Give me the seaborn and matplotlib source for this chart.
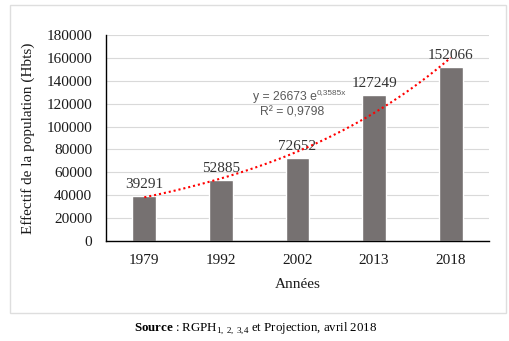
import numpy as np
import pandas as pd
import matplotlib
matplotlib.use("Agg")
import matplotlib.pyplot as plt
from matplotlib.patches import Rectangle
import seaborn as sns

# Population census / projection figures
years = ["1979", "1992", "2002", "2013", "2018"]
population = [39291, 52885, 72652, 127249, 152066]
y_ticks = [0, 20000, 40000, 60000, 80000, 100000, 120000, 140000, 160000, 180000]

# Exponential trend fitted in the spreadsheet: y = a * exp(b * x), x = 1..n
trend_a = 26673
trend_b = 0.3585
trend_b_label = "0,3585x"
trend_r2 = "0,9798"

sns.set_theme(style="white")
plt.rcParams["font.family"] = ["Liberation Serif", "DejaVu Serif"]
plt.rcParams["mathtext.fontset"] = "custom"
plt.rcParams["mathtext.rm"] = "Liberation Serif"
plt.rcParams["mathtext.bf"] = "Liberation Serif:bold"

df = pd.DataFrame({"Année": years, "Population": population})

fig = plt.figure(figsize=(5.10, 3.41), dpi=100)
fig.patch.set_facecolor("white")
fig.add_artist(Rectangle((10 / 510, 28 / 341), 496 / 510, 308 / 341,
                         transform=fig.transFigure, fill=False,
                         edgecolor="#dedede", linewidth=1.0))

ax = fig.add_axes([106 / 510, 100 / 341, 383 / 510, 206 / 341])
sns.barplot(data=df, x="Année", y="Population", color="#767171",
            width=0.31, saturation=1, ax=ax, zorder=2)

ax.set_ylim(0, 180000)
ax.set_xlim(-0.5, len(years) - 0.5)
ax.set_yticks(y_ticks)
ax.set_yticklabels([str(t) for t in y_ticks], fontsize=11, color="#1a1a1a")
ax.tick_params(axis="x", labelsize=11, colors="#1a1a1a", pad=9, length=0)
ax.tick_params(axis="y", pad=10, length=0)
ax.yaxis.grid(True, color="#d9d9d9", linewidth=0.8, zorder=0)
ax.set_axisbelow(True)
for s in ["top", "right"]:
    ax.spines[s].set_visible(False)
for s in ["left", "bottom"]:
    ax.spines[s].set_color("black")
    ax.spines[s].set_linewidth(1.0)

ax.set_xlabel("Années", fontsize=11, color="#1a1a1a", labelpad=8)
ax.set_ylabel("")
fig.text(28 / 510, 1 - 138 / 341, "Effectif de la population (Hbts)",
         rotation=90, ha="center", va="center", fontsize=11, color="#1a1a1a")

# Value labels above each bar
for i, v in enumerate(population):
    ax.text(i, v + 4500, str(v), ha="center", va="bottom", fontsize=11,
            color="#333333")

# Exponential trend curve
xs = np.linspace(0, len(years) - 1, 200)
ys = trend_a * np.exp(trend_b * (xs + 1))
ax.plot(xs, ys, color="#ff0000", linestyle=(0, (1, 1.4)), linewidth=1.5,
        zorder=3)

eq = ax.text(1.42, 125500, f"y = {trend_a} e", ha="left", va="center",
             fontsize=8.8, color="#595959", family="Liberation Sans")
ax.annotate(trend_b_label, xy=(1.0, 0.62), xycoords=eq, ha="left",
            va="bottom", fontsize=5.9, color="#595959",
            family="Liberation Sans")
ax.text(1.93, 112500, f"R² = {trend_r2}", ha="center", va="center",
        fontsize=8.8, color="#595959", family="Liberation Sans")

fig.text(256 / 510, 1 - 328 / 341,
         r"$\mathbf{Source}$ : RGPH$_{1,\,2,\,3{,}4}$ et Projection, avril 2018",
         ha="center", va="center", fontsize=9.3, color="black")

fig.savefig("out.png", dpi=100, facecolor="white")
